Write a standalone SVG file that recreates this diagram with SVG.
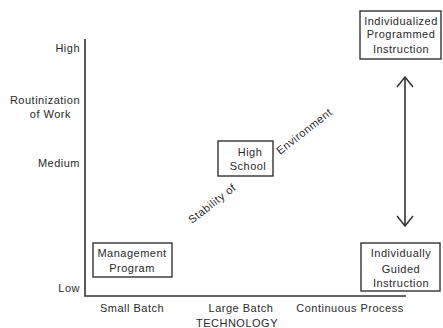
<svg xmlns="http://www.w3.org/2000/svg" width="443" height="328" viewBox="0 0 443 328">
<defs>
<style>
text{font-family:"Liberation Sans",Arial,sans-serif;font-size:11px;fill:#2a2a2a;letter-spacing:0.5px}
.box{fill:none;stroke:#333;stroke-width:1.4}
.ax{stroke:#333;stroke-width:1.6;fill:none}
.mid{text-anchor:middle}
.end{text-anchor:end}
</style>
<marker id="ah" viewBox="0 0 12 18" refX="11" refY="9" markerWidth="12" markerHeight="18" markerUnits="userSpaceOnUse" orient="auto-start-reverse">
<path d="M1,1 L11,9 L1,17" fill="none" stroke="#333" stroke-width="1.5"/>
</marker>
</defs>
<rect width="443" height="328" fill="#fff"/>
<g id="axes">
<path class="ax" d="M85,39 V296 H406"/>
<text class="end" x="80" y="52">High</text>
<text class="end" x="80" y="104">Routinization</text>
<text class="end" x="71" y="118">of Work</text>
<text class="end" x="80" y="167">Medium</text>
<text class="end" x="80" y="292">Low</text>
<text class="mid" x="132" y="312">Small Batch</text>
<text class="mid" x="241" y="312">Large Batch</text>
<text class="mid" x="350" y="312">Continuous Process</text>
<text class="mid" x="237" y="327">TECHNOLOGY</text>
</g>
<g id="management-program">
<rect class="box" x="93" y="243" width="79" height="34"/>
<text class="mid" x="132" y="257">Management</text>
<text class="mid" x="132" y="272">Program</text>
</g>
<g id="high-school">
<rect class="box" x="218" y="141" width="55" height="35"/>
<text class="mid" x="250" y="156">High</text>
<text class="mid" x="248" y="170">School</text>
</g>
<g id="individualized-programmed-instruction">
<rect class="box" x="360" y="11" width="81" height="48"/>
<text class="mid" x="401" y="25">Individualized</text>
<text class="mid" x="401" y="38">Programmed</text>
<text class="mid" x="401" y="53">Instruction</text>
</g>
<g id="individually-guided-instruction">
<rect class="box" x="361" y="243" width="79" height="48"/>
<text class="mid" x="401" y="257">Individually</text>
<text class="mid" x="401" y="273">Guided</text>
<text class="mid" x="401" y="287">Instruction</text>
</g>
<g id="stability-label">
<text x="0" y="0" transform="translate(192,224) rotate(-38)">Stability of</text>
<text x="0" y="0" transform="translate(280,155) rotate(-38)">Environment</text>
</g>
<g id="connectors">
<line class="ax" x1="405" y1="77" x2="405" y2="226" marker-start="url(#ah)" marker-end="url(#ah)"/>
</g>
</svg>
